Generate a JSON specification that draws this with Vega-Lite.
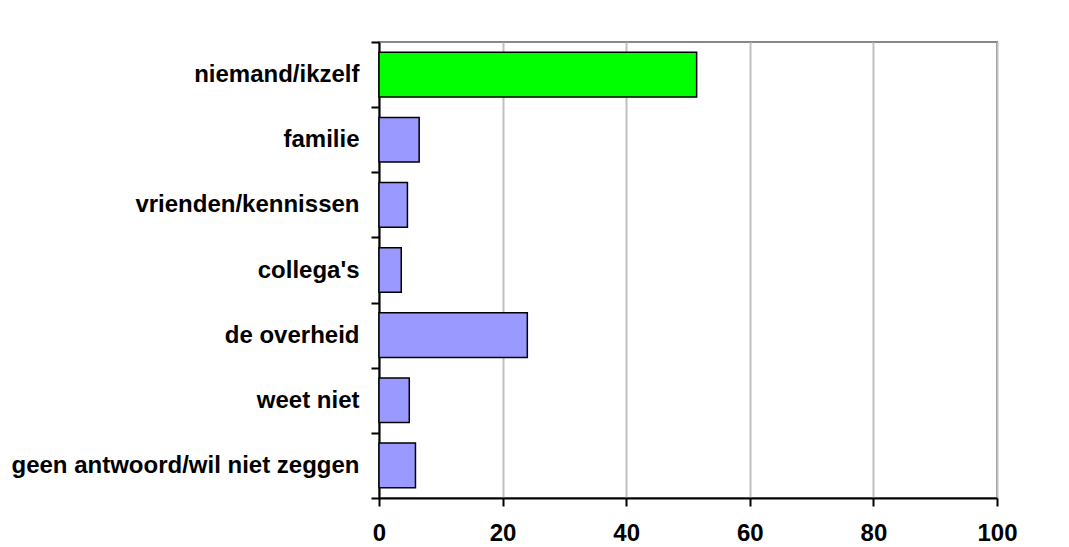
{
  "$schema": "https://vega.github.io/schema/vega-lite/v6.json",
  "autosize": "none",
  "width": 618,
  "height": 456,
  "padding": {"left": 379, "top": 42, "right": 72, "bottom": 49},
  "background": "white",
  "config": {
    "view": {"stroke": "#888888", "strokeWidth": 2},
    "font": "Liberation Sans"
  },
  "data": {
    "values": [
      {"antwoord": "niemand/ikzelf", "pct": 51.4},
      {"antwoord": "familie", "pct": 6.5},
      {"antwoord": "vrienden/kennissen", "pct": 4.6},
      {"antwoord": "collega's", "pct": 3.6},
      {"antwoord": "de overheid", "pct": 24.0},
      {"antwoord": "weet niet", "pct": 4.9},
      {"antwoord": "geen antwoord/wil niet zeggen", "pct": 5.9}
    ]
  },
  "mark": {"type": "bar", "stroke": "black", "strokeWidth": 1.5, "height": {"band": 0.685}},
  "encoding": {
    "y": {
      "field": "antwoord",
      "type": "nominal",
      "sort": null,
      "scale": {"paddingInner": 0, "paddingOuter": 0},
      "axis": {
        "title": null,
        "tickBand": "extent",
        "domainColor": "black",
        "domainWidth": 2,
        "tickColor": "black",
        "tickWidth": 2,
        "tickSize": 8,
        "labelFontSize": 24,
        "labelFontWeight": "bold",
        "labelColor": "black",
        "labelPadding": 12,
        "labelLimit": 500
      }
    },
    "x": {
      "field": "pct",
      "type": "quantitative",
      "scale": {"domain": [0, 100], "nice": false},
      "axis": {
        "title": null,
        "values": [0, 20, 40, 60, 80, 100],
        "grid": true,
        "gridColor": "#c0c0c0",
        "gridWidth": 2,
        "domainColor": "black",
        "domainWidth": 2,
        "tickColor": "black",
        "tickWidth": 2,
        "tickSize": 8,
        "labelFontSize": 24,
        "labelFontWeight": "bold",
        "labelColor": "black",
        "labelPadding": 15,
        "labelFlush": false
      }
    },
    "color": {
      "field": "antwoord",
      "type": "nominal",
      "legend": null,
      "scale": {
        "domain": ["niemand/ikzelf", "familie", "vrienden/kennissen", "collega's", "de overheid", "weet niet", "geen antwoord/wil niet zeggen"],
        "range": ["#00ff00", "#9999ff", "#9999ff", "#9999ff", "#9999ff", "#9999ff", "#9999ff"]
      }
    }
  }
}
